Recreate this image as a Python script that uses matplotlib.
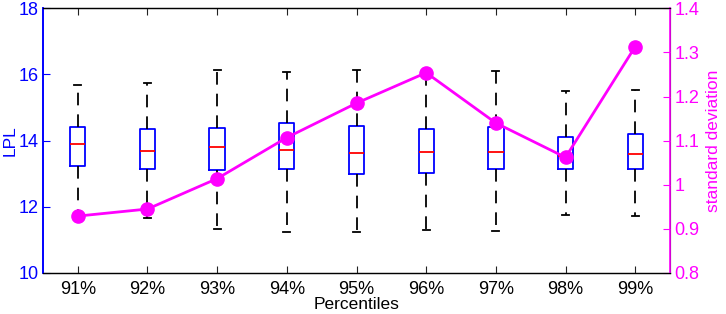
import matplotlib
matplotlib.use("Agg")
import matplotlib.pyplot as plt
from matplotlib.ticker import FuncFormatter

plt.rcParams['font.family'] = ['Liberation Sans', 'DejaVu Sans']

categories = ['91%', '92%', '93%', '94%', '95%', '96%', '97%', '98%', '99%']
whislo = [11.75, 11.66, 11.33, 11.25, 11.25, 11.31, 11.27, 11.76, 11.72]
q1 = [13.24, 13.15, 13.12, 13.15, 13.00, 13.02, 13.15, 13.15, 13.15]
med = [13.90, 13.68, 13.81, 13.72, 13.63, 13.66, 13.66, 13.55, 13.59]
q3 = [14.41, 14.36, 14.37, 14.54, 14.44, 14.34, 14.40, 14.10, 14.20]
whishi = [15.68, 15.73, 16.15, 16.07, 16.14, 16.10, 16.11, 15.49, 15.53]
std_dev = [0.929, 0.945, 1.014, 1.107, 1.185, 1.254, 1.140, 1.062, 1.313]

fig = plt.figure(figsize=(7.26, 3.14), dpi=100)
ax = fig.add_axes([0.0592, 0.1306, 0.8637, 0.843])

stats = []
for i, c in enumerate(categories):
    stats.append(dict(label=c, whislo=whislo[i], q1=q1[i], med=med[i],
                      q3=q3[i], whishi=whishi[i], fliers=[]))
pos = list(range(1, len(categories) + 1))
ax.bxp(stats, positions=pos, widths=0.22, showfliers=False,
       boxprops=dict(color='#0000ff', linewidth=1.3),
       medianprops=dict(color='#ff0000', linewidth=1.3),
       whiskerprops=dict(color='black', linewidth=1.3, linestyle=(0, (7, 5))),
       capprops=dict(color='black', linewidth=1.3), capwidths=0.1)

ax.set_xlim(0.5, 9.5)
ax.set_ylim(10, 18)
ax.set_yticks([10, 12, 14, 16, 18])
ax.set_xticks(pos)
ax.set_xticklabels(categories)
ax.tick_params(axis='x', direction='in', top=True, length=5, labelsize=13, pad=6, color='#222222')
ax.tick_params(axis='y', direction='in', colors='#0000ff', length=5, labelsize=13, pad=3)
ax.set_xlabel('Percentiles', fontsize=12.5, labelpad=-1)
ax.set_ylabel('LPL', fontsize=12.5, color='#0000ff', labelpad=1)
ax.spines['left'].set_color('#0000ff')
ax.spines['left'].set_linewidth(1.2)
for s in ['top', 'bottom']:
    ax.spines[s].set_color('#222222')
    ax.spines[s].set_linewidth(1.0)

ax2 = ax.twinx()
ax2.plot(pos, std_dev, color='#ff00ff', linewidth=2, marker='o', markersize=9.5)
ax2.set_ylim(0.8, 1.4)
ax2.set_yticks([0.8, 0.9, 1.0, 1.1, 1.2, 1.3, 1.4])
ax2.yaxis.set_major_formatter(FuncFormatter(lambda v, p: '%g' % round(v, 2)))
ax2.tick_params(axis='y', direction='in', colors='#ff00ff', length=5, labelsize=13, pad=3)
ax2.set_ylabel('standard deviation', fontsize=12.5, color='#ff00ff', labelpad=5)
ax2.spines['right'].set_color('#ff00ff')
ax2.spines['right'].set_linewidth(1.2)
ax2.spines['left'].set_color('#0000ff')
ax2.spines['left'].set_linewidth(1.2)

fig.savefig('out.png', dpi=100)
